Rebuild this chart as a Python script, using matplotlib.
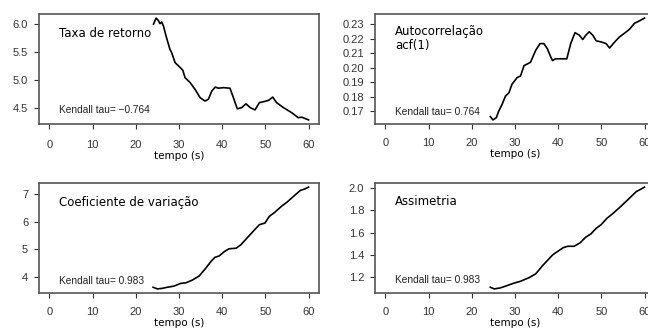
import matplotlib
matplotlib.use("Agg")
import matplotlib.pyplot as plt
import numpy as np

# tempo (s) e valores
t_ret = [24.1, 24.7, 25.2, 25.6, 26.0, 26.4, 27.0, 27.9, 28.3, 29.1, 30.3, 30.9, 31.4,
         32.6, 33.7, 34.9, 36.0, 36.8, 37.6, 38.4, 39.1, 40.3, 41.8, 42.6, 43.5, 44.5,
         45.5, 46.5, 47.6, 48.6, 49.7, 50.7, 51.7, 52.6, 54.2, 56.1, 57.6, 58.4, 60.0]
taxa = [6.00, 6.11, 6.07, 6.01, 6.04, 5.97, 5.79, 5.55, 5.49, 5.31, 5.22, 5.17, 5.04,
        4.95, 4.83, 4.68, 4.62, 4.65, 4.80, 4.87, 4.85, 4.86, 4.85, 4.68, 4.48, 4.50,
        4.57, 4.50, 4.46, 4.59, 4.61, 4.63, 4.69, 4.59, 4.50, 4.41, 4.32, 4.33, 4.28]

t_acf = [24.3, 24.9, 25.7, 26.2, 27.0, 27.8, 28.6, 29.3, 30.5, 31.3, 32.1, 33.6, 34.8,
         35.8, 36.7, 37.5, 38.3, 38.7, 39.4, 40.6, 42.0, 42.9, 43.9, 44.9, 45.7, 46.4,
         47.2, 48.0, 48.8, 49.9, 51.1, 51.9, 52.9, 54.2, 55.3, 56.5, 57.7, 58.5, 60.0]
acf1 = [0.1665, 0.1642, 0.1658, 0.1700, 0.1747, 0.1805, 0.1828, 0.1886, 0.1932, 0.1944,
        0.2014, 0.2037, 0.2119, 0.2165, 0.2165, 0.2130, 0.2072, 0.2049, 0.2061, 0.2061,
        0.2061, 0.2165, 0.2240, 0.2223, 0.2193, 0.2223, 0.2246, 0.2223, 0.2184, 0.2177,
        0.2165, 0.2135, 0.2170, 0.2211, 0.2235, 0.2263, 0.2305, 0.2316, 0.2340]

t_cv = [24.0, 25.0, 26.1, 27.3, 28.8, 30.4, 31.6, 33.1, 34.7, 36.2, 37.4, 38.3, 39.3,
        40.5, 41.6, 43.2, 44.3, 45.7, 47.1, 48.6, 49.9, 50.9, 52.1, 53.7, 55.2, 56.7,
        58.1, 59.1, 60.0]
coef_var = [3.63, 3.57, 3.59, 3.63, 3.67, 3.77, 3.79, 3.89, 4.04, 4.32, 4.56, 4.71, 4.76,
            4.92, 5.02, 5.04, 5.16, 5.40, 5.64, 5.89, 5.95, 6.19, 6.33, 6.55, 6.73, 6.94,
            7.13, 7.18, 7.25]

t_ass = [24.3, 25.2, 26.6, 28.2, 29.7, 31.3, 33.2, 34.8, 36.3, 37.5, 38.7, 39.8, 41.2,
         42.2, 43.7, 45.1, 46.4, 47.6, 48.8, 49.9, 51.3, 52.6, 54.6, 56.5, 58.1, 59.1, 60.0]
assim = [1.110, 1.095, 1.104, 1.125, 1.146, 1.164, 1.195, 1.230, 1.300, 1.350, 1.400,
         1.430, 1.466, 1.478, 1.478, 1.510, 1.560, 1.590, 1.640, 1.670, 1.730, 1.770,
         1.840, 1.910, 1.970, 1.990, 2.010]

x_ticks = [0, 10, 20, 30, 40, 50, 60]

painel = [
    (t_ret, taxa, "Taxa de retorno", "Kendall tau= \u22120.764",
     [4.5, 5.0, 5.5, 6.0], "{:.1f}", [0.0602, 0.6265]),
    (t_acf, acf1, "Autocorrelação\nacf(1)", "Kendall tau= 0.764",
     [0.17, 0.18, 0.19, 0.20, 0.21, 0.22, 0.23], "{:.2f}", [0.5787, 0.6265]),
    (t_cv, coef_var, "Coeficiente de variação", "Kendall tau= 0.983",
     [4, 5, 6, 7], "{:.0f}", [0.0602, 0.1175]),
    (t_ass, assim, "Assimetria", "Kendall tau= 0.983",
     [1.2, 1.4, 1.6, 1.8, 2.0], "{:.1f}", [0.5787, 0.1175]),
]
title_y = [0.825, 0.778, 0.82, 0.835]
kend_y = [0.127, 0.11, 0.11, 0.116]
x_pad = [8, 6.5, 6.5, 6.5]

fig = plt.figure(figsize=(6.48, 3.32), dpi=100)

for i, (t, v, titulo, kend, yt, fmt, pos) in enumerate(painel):
    ax = fig.add_axes([pos[0], pos[1], 0.432, 0.3313])
    ax.plot(t, v, color="black", lw=1.2)
    ax.set_xlim(-2.4, 62.4)
    lo, hi = min(v), max(v)
    pad = 0.04 * (hi - lo)
    ax.set_ylim(lo - pad, hi + pad)
    ax.set_xticks(x_ticks)
    ax.set_xticklabels([str(x) for x in x_ticks])
    ax.set_yticks(yt)
    ax.set_yticklabels([fmt.format(y) for y in yt])
    for s in ax.spines.values():
        s.set_color("#555555")
        s.set_linewidth(1.2)
    ax.tick_params(axis="both", length=3.8, width=0.8, color="#333333",
                   labelsize=8, labelcolor="#333333")
    ax.tick_params(axis="x", pad=x_pad[i] if i < 2 else 6.5)
    ax.tick_params(axis="y", pad=4)
    for lab in ax.get_xticklabels() + ax.get_yticklabels():
        lab.set_family("Liberation Sans")
    ax.set_xlabel("tempo (s)", fontsize=7.5, family="DejaVu Sans", labelpad=0.5)
    ax.text(0.072, title_y[i], titulo, transform=ax.transAxes, fontsize=8.5,
            family="DejaVu Sans", va="center", ha="left", linespacing=1.1)
    ax.text(0.072, kend_y[i], kend, transform=ax.transAxes, fontsize=7.3,
            family="Liberation Sans", va="center", ha="left", color="#222222")

fig.savefig("out.png", dpi=100)
